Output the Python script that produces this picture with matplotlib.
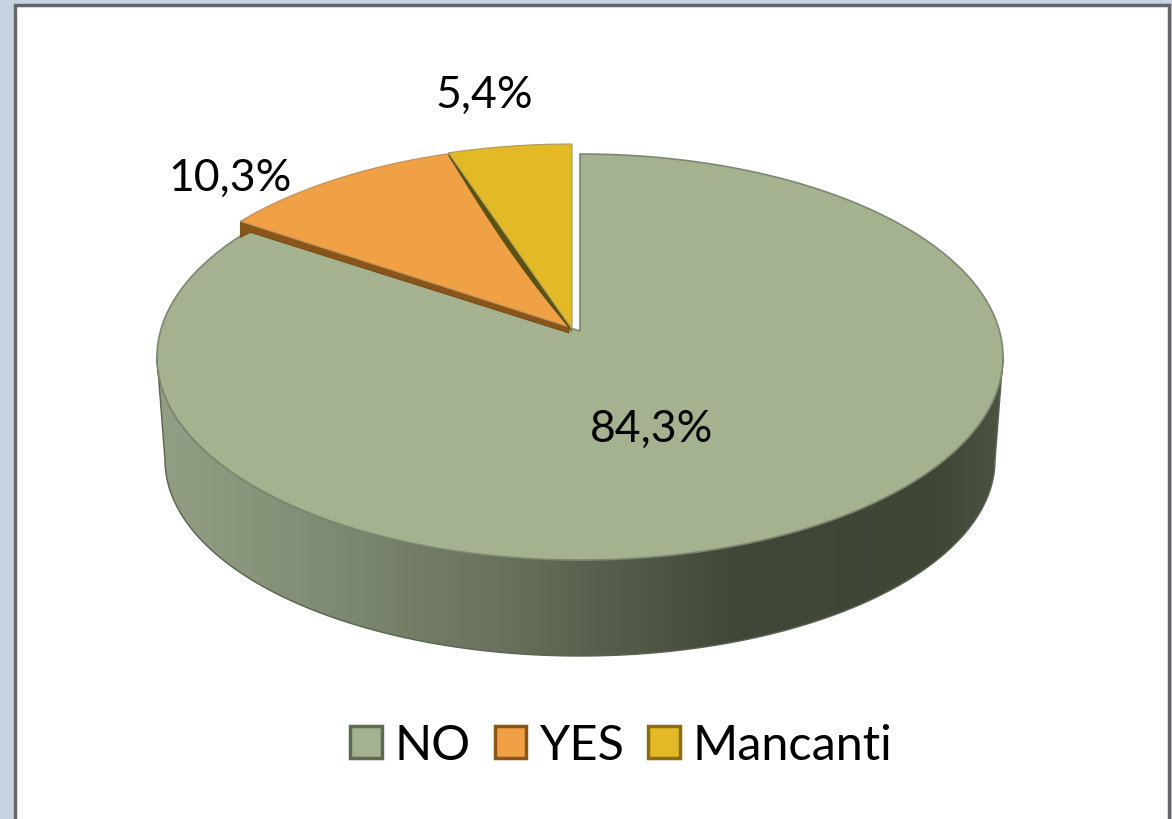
import numpy as np
import matplotlib
matplotlib.use("Agg")
import matplotlib.pyplot as plt
from matplotlib.colors import LinearSegmentedColormap
from matplotlib.patches import Patch, Polygon, Rectangle

# values
categories = ["NO", "YES", "Mancanti"]
values = [84.3, 10.3, 5.4]
top_colors = ["#a4b28f", "#f0a045", "#e3b925"]
edge_colors = ["#5f6a52", "#8a5518", "#8a6d10"]
label_pos = [(652, 429), (230, 178), (484, 95)]

plt.rcParams["font.family"] = ["Lato", "DejaVu Sans"]

fig = plt.figure(figsize=(11.72, 8.2), dpi=100)
ax = fig.add_axes([0, 0, 1, 1])
ax.set_facecolor("#c6d3e0")
ax.add_patch(Rectangle((15, 6), 1154, 840, fc="white", ec="#666666", lw=2.5, zorder=0))


def angle(frac):
    # fraction of the pie, clockwise from the top, with the tilt of the 3D view
    phi = 2 * np.pi * frac
    return phi - np.radians(5) * np.sin(2 * phi) + np.radians(0.7) * np.sin(4 * phi)


def arc(cx, cy, rx, ry, a0, a1, n=120):
    t = np.linspace(a0, a1, n)
    return np.column_stack([cx + rx * np.sin(t), cy - ry * np.cos(t)])


rx, ry = 423, 203
fracs = np.cumsum([0] + values) / sum(values)

# NO: side wall with the left to right shading
cx, cy = 580, 358
wall = np.vstack([arc(cx, cy, rx, ry, np.pi / 2, 3 * np.pi / 2),
                  arc(cx, 461, 415, 196, 3 * np.pi / 2, np.pi / 2)])
shade = LinearSegmentedColormap.from_list("wall", [
    (0.0, "#939f84"), (0.12, "#87947a"), (0.4, "#69725c"),
    (0.68, "#414839"), (0.92, "#3f4636"), (1.0, "#4b5342")])
grad = np.linspace(0, 1, 400).reshape(1, -1)
im = ax.imshow(grad, cmap=shade, extent=(157, 1004, 660, 340), aspect="auto", zorder=1)
wall_patch = Polygon(wall, fc="none", ec="#5a6350", lw=1, zorder=2)
ax.add_patch(wall_patch)
im.set_clip_path(wall_patch)

# NO: top face
no_arc = arc(cx, cy, rx, ry, angle(fracs[0]), angle(fracs[1]), 300)
ax.add_patch(Polygon(np.vstack([[cx, 332], no_arc]), fc=top_colors[0], ec="#7d8873", lw=1.2, zorder=3))

# YES: wall along the lower edge, then top face
yes_c = (571, 349)
yes_arc = arc(*yes_c, rx, ry, angle(fracs[1]), angle(fracs[2]))
yes_apex = np.array([yes_c[0] - 2, 328])
end = yes_arc[0]
ax.add_patch(Polygon([yes_apex, end, end + [0, 16], end + [10, 11], yes_apex + [0, 6]],
                     fc="#8a5518", ec="#6e4512", lw=0.6, zorder=4))
ax.add_patch(Polygon(np.vstack([yes_apex, yes_arc]), fc=top_colors[1], ec="#b89060", lw=0.8, zorder=5))

# Mancanti: thin dark wall on its left edge, then top face
man_c = (572, 348)
man_arc = arc(*man_c, rx, ry, angle(fracs[2]), angle(fracs[3]))
man_apex = np.array([man_c[0], 330])
t = np.linspace(0, 1, 30)
lip = man_arc[0] + np.outer(t, man_apex - man_arc[0])
lower = lip + np.column_stack([0 * t, 3 + 8 * np.sin(np.pi * t)])
ax.add_patch(Polygon(np.vstack([lip, lower[::-1]]), fc="#5c5210", ec="none", zorder=6))
ax.add_patch(Polygon(np.vstack([man_apex, man_arc]), fc=top_colors[2], ec="#a89a60", lw=0.8, zorder=7))

# labels
for val, (x, y) in zip(values, label_pos):
    ax.text(x, y, f"{val:.1f}%".replace(".", ","), fontsize=32, color="black",
            ha="center", va="center", zorder=8)

handles = [Patch(fc=f, ec=e, lw=2.5) for f, e in zip(top_colors, edge_colors)]
ax.legend(handles, categories, ncol=3, loc="center", frameon=False, fontsize=35,
          bbox_to_anchor=(621, 746), bbox_transform=ax.transData,
          handlelength=0.65, handleheight=0.65, handletextpad=0.26,
          columnspacing=0.5, borderpad=0, labelspacing=0)

ax.set_xlim(0, 1172)
ax.set_ylim(820, 0)
ax.axis("off")
fig.patch.set_facecolor("#c6d3e0")
fig.savefig("out.png", dpi=100, facecolor=fig.get_facecolor())
